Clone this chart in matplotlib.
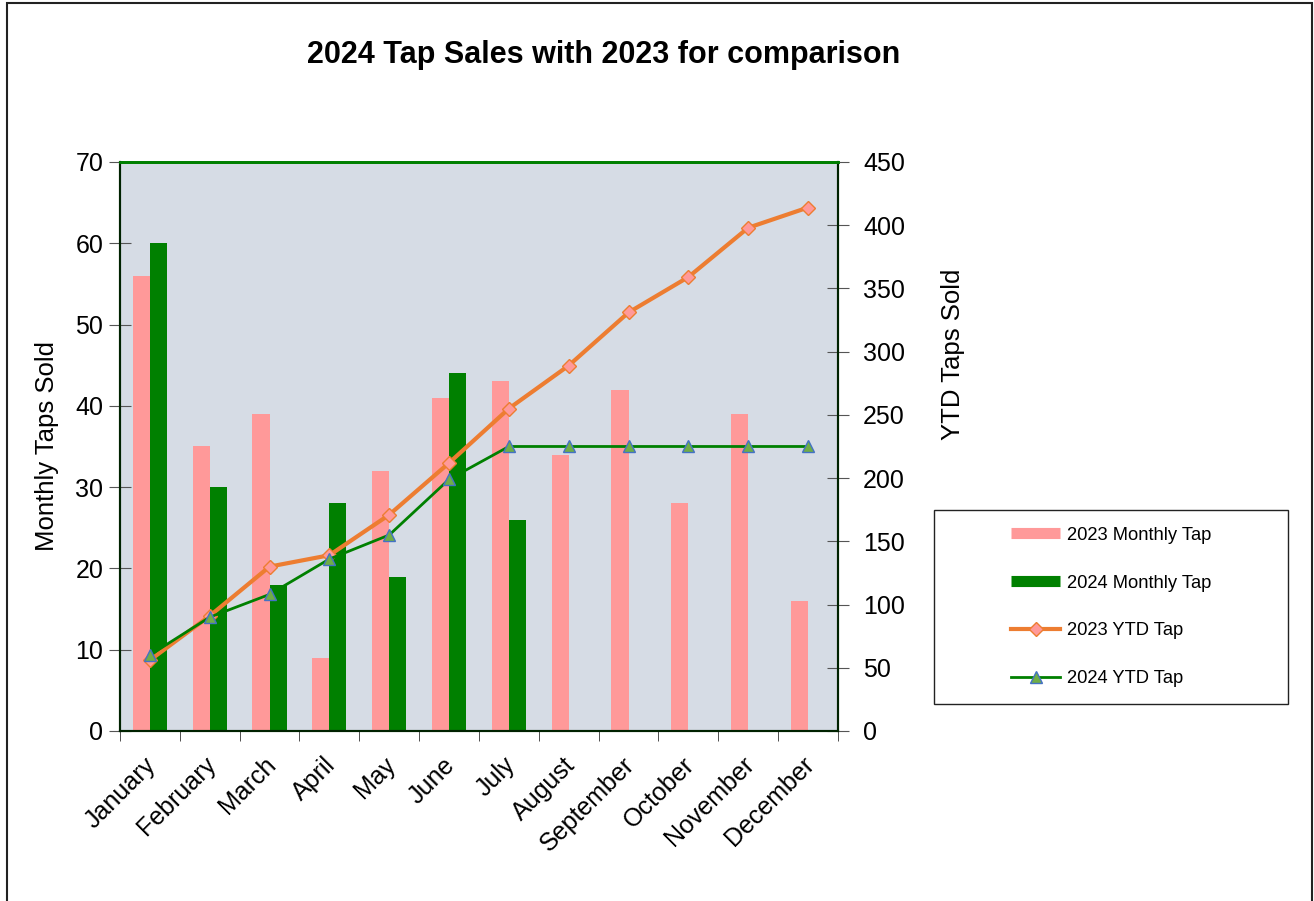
import matplotlib
matplotlib.use("Agg")
import matplotlib.pyplot as plt
import matplotlib.transforms as mtransforms
import numpy as np
from matplotlib.lines import Line2D
from matplotlib.patches import Rectangle

plt.rcParams["font.family"] = ["Liberation Sans", "DejaVu Sans"]

# ── data ────────────────────────────────────────────────────────────────
months = ["January", "February", "March", "April", "May", "June",
          "July", "August", "September", "October", "November", "December"]
monthly_2023 = [56, 35, 39, 9, 32, 41, 43, 34, 42, 28, 39, 16]
monthly_2024 = [60, 30, 18, 28, 19, 44, 26, np.nan, np.nan, np.nan, np.nan, np.nan]
ytd_2023 = [56, 91, 130, 139, 171, 212, 255, 289, 331, 359, 398, 414]
ytd_2024 = [60, 90, 108, 136, 155, 199, 225, 225, 225, 225, 225, 225]

PINK   = "#FF9999"
GREEN  = "#008000"
ORANGE = "#ED7D31"
TRI_FC = "#70AD47"
TRI_EC = "#4472C4"
BG     = "#D6DCE5"

fig = plt.figure(figsize=(13.14, 9.01), dpi=100)
ax = fig.add_axes([0.0913, 0.1887, 0.5464, 0.6315])
ax2 = ax.twinx()

x = np.arange(len(months))
w = 0.285
ax.bar(x - w / 2, monthly_2023, w, color=PINK, zorder=2)
ax.bar(x + w / 2, monthly_2024, w, color=GREEN, zorder=2)
ax.set_facecolor(BG)
ax.set_xlim(-0.5, len(months) - 0.5)
ax.set_ylim(0, 70)
ax.set_yticks(np.arange(0, 71, 10))

ax2.plot(x, ytd_2023, color=ORANGE, lw=3, marker="D", ms=7,
         mfc=PINK, mec=ORANGE, mew=1, zorder=3)
ax2.plot(x, ytd_2024, color=GREEN, lw=2, marker="^", ms=9,
         mfc=TRI_FC, mec=TRI_EC, mew=1, zorder=4)
ax2.set_ylim(0, 450)
ax2.set_yticks(np.arange(0, 451, 50))

# category labels at centres, tick marks at boundaries
ax.set_xticks(x)
ax.set_xticklabels(months, rotation=45, ha="right", rotation_mode="anchor", fontsize=18)
ax.set_xticks(np.arange(-0.5, len(months), 1), minor=True)
ax.tick_params(axis="x", which="major", length=0, pad=12)
ax.tick_params(axis="x", which="minor", direction="out", length=7, color="#333333")
ax.tick_params(axis="y", direction="inout", length=16, labelsize=18, pad=4, color="#555555")
ax2.tick_params(axis="y", direction="inout", length=16, labelsize=18, pad=10, color="#555555")

shift = mtransforms.ScaledTranslation(-6 / 100, -5 / 100, fig.dpi_scale_trans)
for lbl in ax.get_xticklabels():
    lbl.set_transform(lbl.get_transform() + shift)

for a in (ax, ax2):
    for side in ("left", "right", "bottom"):
        a.spines[side].set_color("#002200")
        a.spines[side].set_linewidth(1.5)
    a.spines["top"].set_color(GREEN)
    a.spines["top"].set_linewidth(2)

fig.text(0.459, 0.939, "2024 Tap Sales with 2023 for comparison",
         ha="center", va="center", fontsize=22, fontweight="bold")
fig.text(0.036, 0.505, "Monthly Taps Sold", rotation=90,
         ha="center", va="center", fontsize=18.5)
fig.text(0.725, 0.607, "YTD Taps Sold", rotation=90,
         ha="center", va="center", fontsize=18.5)

# legend with its own box
fig.patches.append(Rectangle((0.7108, 0.2186), 0.2694, 0.2154, transform=fig.transFigure,
                             fill=False, edgecolor="#222222", lw=1, zorder=5))
handles = [
    Line2D([], [], color=PINK, lw=8, solid_capstyle="butt"),
    Line2D([], [], color=GREEN, lw=8, solid_capstyle="butt"),
    Line2D([], [], color=ORANGE, lw=3, marker="D", ms=7, mfc=PINK, mec=ORANGE),
    Line2D([], [], color=GREEN, lw=2, marker="^", ms=9, mfc=TRI_FC, mec=TRI_EC),
]
labels = ["2023 Monthly Tap", "2024 Monthly Tap", "2023 YTD Tap", "2024 YTD Tap"]
fig.legend(handles, labels, loc="center", bbox_to_anchor=(0.8455, 0.3263),
           frameon=False, fontsize=13.2, handlelength=2.7, handletextpad=0.35,
           labelspacing=1.69)

# outer chart border
fig.patches.append(Rectangle((7 / 1314, -0.02), 1305 / 1314, 1.02 - 3 / 901,
                             transform=fig.transFigure, fill=False,
                             edgecolor="#222222", lw=1.5))

fig.savefig("out.png", dpi=100)
